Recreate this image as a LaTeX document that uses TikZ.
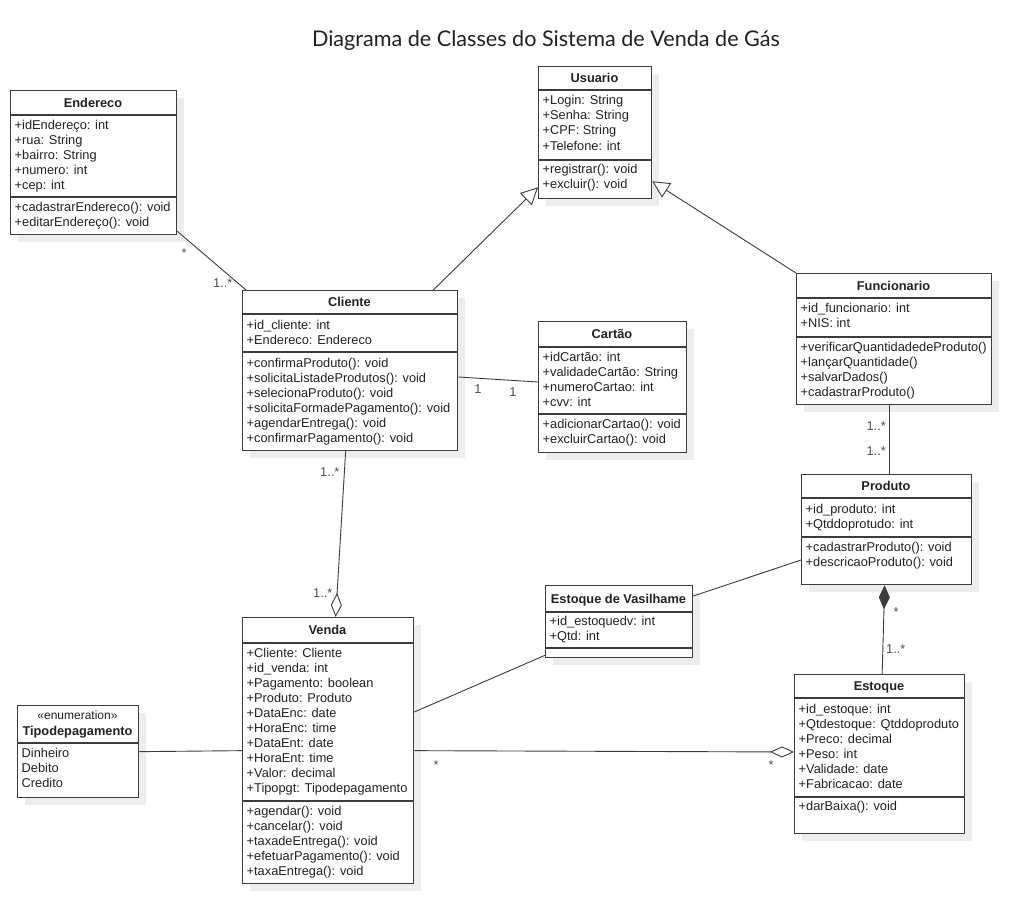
\documentclass[tikz,border=0pt]{standalone}
\usepackage{fontspec}
\setmainfont{Liberation Sans}
\newfontfamily\titlefont{Lato}
\usetikzlibrary{arrows.meta,shadows,calc}
\definecolor{linec}{HTML}{3C3C3C}
\definecolor{textc}{HTML}{222222}
\definecolor{shadowc}{HTML}{EDEDED}
\tikzset{
 classbox/.style={draw=linec, line width=1.3pt, fill=white, anchor=north west, inner sep=0pt,
   drop shadow={shadow xshift=7pt, shadow yshift=-7pt, fill=shadowc, opacity=1}},
 sepline/.style={draw=linec, line width=1.3pt},
 txt/.style={anchor=base west, inner sep=0pt, font=\fontsize{12.8}{15}\selectfont, text=textc},
 hdr/.style={anchor=base, inner sep=0pt, font=\bfseries\fontsize{12.8}{15}\selectfont, text=textc},
 conn/.style={draw=linec, line width=0.9pt},
 lbl/.style={inner sep=0pt, font=\fontsize{12.8}{15}\selectfont, text=textc!80},
 gen/.style={conn, -{Triangle[open, length=17pt, width=17pt, fill=white]}},
 agg/.style={conn, -{Diamond[open, length=24pt, width=11pt, fill=white]}},
 comp/.style={conn, -{Diamond[length=24pt, width=11pt]}},
}
\newcommand\umlbox[7]{%
 \node[classbox, minimum width=#4pt, minimum height=#5pt] (#1) at (#2,#3) {};
 \draw[sepline] (#2,#6) -- ++(#4,0);
 \node[hdr] at ({#2+#4/2},{(#3+#6)/2+4.6}) {#7};
}
\newcommand\sepat[3]{\draw[sepline] (#1,#3) -- ++(#2,0);}
\newcommand\txtlines[3]{\foreach \t [count=\i from 0] in {#3} {\node[txt] at ({#1},{#2+15*\i}) {\t};}}
\begin{document}
\begin{tikzpicture}[x=1pt,y=-1pt]
\fill[white] (0,0) rectangle (1031,923);
\useasboundingbox (0,0) rectangle (1031,923);

\node[font=\titlefont\fontsize{21.6}{25}\selectfont, text=textc, anchor=base] (title) at (546,47) {Diagrama de Classes do Sistema de Venda de Gás};

% Endereco
\umlbox{endereco}{10}{90}{166}{144}{115}{Endereco}
\sepat{10}{166}{197}
\txtlines{14.5}{129.5}{+idEndereço: int,+rua: String,+bairro: String,+numero: int,+cep: int}
\txtlines{14.5}{211.5}{+cadastrarEndereco(): void,+editarEndereço(): void}

% Usuario
\umlbox{usuario}{538}{66}{113}{132}{90}{Usuario}
\sepat{538}{113}{160}
\txtlines{542.5}{105}{+Login: String,+Senha: String,+CPF: String,+Telefone: int}
\txtlines{542.5}{174}{+registrar(): void,+excluir(): void}

% Cliente
\umlbox{cliente}{242}{290}{215}{160}{314}{Cliente}
\sepat{242}{215}{352}
\txtlines{246.5}{329}{+id\_cliente: int,+Endereco: Endereco}
\txtlines{246.5}{367}{+confirmaProduto(): void,+solicitaListadeProdutos(): void,+selecionaProduto(): void,+solicitaFormadePagamento(): void,+agendarEntrega(): void,+confirmarPagamento(): void}

% Cartao
\umlbox{cartao}{538}{321}{148}{131}{347}{Cartão}
\sepat{538}{148}{414}
\txtlines{542.5}{361}{+idCartão: int,+validadeCartão: String,+numeroCartao: int,+cvv: int}
\txtlines{542.5}{428}{+adicionarCartao(): void,+excluirCartao(): void}

% Funcionario
\umlbox{funcionario}{796}{273}{195}{131}{298}{Funcionario}
\sepat{796}{195}{337}
\txtlines{800.5}{312.5}{+id\_funcionario: int,+NIS: int}
\txtlines{800.5}{351}{+verificarQuantidadedeProduto(),+lançarQuantidade(),+salvarDados(),+cadastrarProduto()}

% Produto
\umlbox{produto}{801}{474}{170}{110}{498}{Produto}
\sepat{801}{170}{537}
\txtlines{805.5}{513}{+id\_produto: int,+Qtddoprotudo: int}
\txtlines{805.5}{551}{+cadastrarProduto(): void,+descricaoProduto(): void}

% Estoque de Vasilhame
\umlbox{vasilhame}{545}{585}{147}{72}{612}{Estoque de Vasilhame}
\sepat{545}{147}{648}
\txtlines{549.5}{625.5}{+id\_estoquedv: int,+Qtd: int}

% Venda
\umlbox{venda}{242}{617}{171}{266}{643}{Venda}
\sepat{242}{171}{801}
\txtlines{246.5}{657.5}{+Cliente: Cliente,+id\_venda: int,+Pagamento: boolean,+Produto: Produto,+DataEnc: date,+HoraEnc: time,+DataEnt: date,+HoraEnt: time,+Valor: decimal,+Tipopgt: Tipodepagamento}
\txtlines{246.5}{815}{+agendar(): void,+cancelar(): void,+taxadeEntrega(): void,+efetuarPagamento(): void,+taxaEntrega(): void}

% Tipodepagamento
\node[classbox, minimum width=121pt, minimum height=92pt] (tipo) at (17,705) {};
\sepat{17}{121}{743}
\node[anchor=base, inner sep=0pt, font=\fontsize{12}{14}\selectfont, text=textc] (tipost) at (77.5,719) {«enumeration»};
\node[hdr] (tiponame) at (77.5,735) {Tipodepagamento};
\txtlines{21.5}{757.5}{Dinheiro,Debito,Credito}

% Estoque
\umlbox{estoque}{794}{674}{170}{159}{698}{Estoque}
\sepat{794}{170}{797}
\txtlines{798.5}{713}{+id\_estoque: int,+Qtdestoque: Qtddoproduto,+Preco: decimal,+Peso: int,+Validade: date,+Fabricacao: date}
\txtlines{798.5}{810.5}{+darBaixa(): void}

% Connectors
\draw[conn] ([yshift=4pt]endereco.south east) -- ([xshift=4pt]cliente.north west);
\node[lbl, anchor=base] (l1a) at (184,257) {*};
\node[lbl, anchor=base west] (l1b) at (213,287) {1..*};

\draw[gen] ([xshift=-25pt]cliente.north east) -- ([yshift=12pt]usuario.south west);
\draw[gen] (funcionario.north west) -- ([yshift=18pt]usuario.south east);

\draw[conn] ([yshift=-87pt]cliente.north east) -- ([yshift=-61pt]cartao.north west);
\node[lbl, anchor=base] (l4a) at (478,393) {1};
\node[lbl, anchor=base] (l4b) at (513,396) {1};

\draw[conn] ([xshift=-4.5pt]funcionario.south) -- ([xshift=3pt]produto.north);
\node[lbl, anchor=base east] (l5a) at (886,430) {1..*};
\node[lbl, anchor=base east] (l5b) at (886,455) {1..*};

\draw[agg] ([xshift=-4.5pt]cliente.south) -- ([xshift=7.5pt]venda.north);
\node[lbl, anchor=base west] (l6a) at (320,476) {1..*};
\node[lbl, anchor=base west] (l6b) at (313,597) {1..*};

\draw[conn] ([yshift=-11pt]vasilhame.north east) -- ([yshift=-86pt]produto.north west);
\draw[conn] ([yshift=-95pt]venda.north east) -- ([yshift=3pt]vasilhame.south west);
\draw[conn] (tipo.east) -- (venda.west);

\draw[agg] (venda.east) -- ([yshift=-78pt]estoque.north west);
\node[lbl, anchor=base] (l10a) at (436,769.5) {*};
\node[lbl, anchor=base] (l10b) at (771,769) {*};

\draw[comp] ([xshift=2.5pt]estoque.north) -- ([xshift=-2pt]produto.south);
\node[lbl, anchor=base] (l11a) at (896,616.5) {*};
\node[lbl, anchor=base west] (l11b) at (886,653) {1..*};
\end{tikzpicture}
\end{document}
